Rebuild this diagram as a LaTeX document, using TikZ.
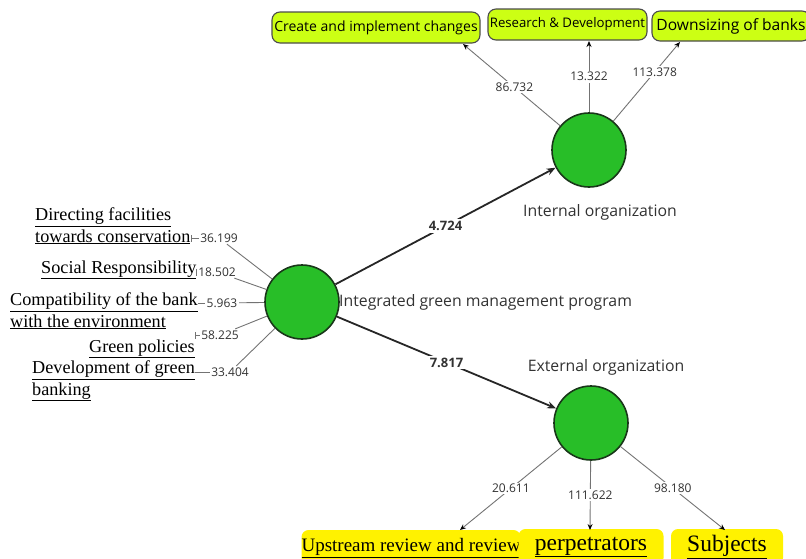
\documentclass[tikz,border=0pt]{standalone}
\usepackage{fontspec}
\setmainfont{Liberation Serif}
\newfontfamily\uifont{Open Sans}
\usetikzlibrary{arrows.meta,calc}
\newcommand\lineunder[1]{\underline{#1}}
\definecolor{lvgreen}{RGB}{40,190,40}
\definecolor{lvedge}{RGB}{25,55,25}
\definecolor{limefill}{RGB}{204,255,20}
\definecolor{hiyellow}{RGB}{255,242,0}
\definecolor{captext}{RGB}{50,50,50}
\begin{document}
\begin{tikzpicture}[x=1pt,y=-1pt,
  latent/.style={circle,draw=lvedge,line width=1.6pt,fill=lvgreen,minimum size=74pt,inner sep=0pt},
  limebox/.style={draw=black!70,line width=1.1pt,fill=limefill,rounded corners=8pt,inner sep=0pt,
    font=\uifont\fontsize{14}{16}\selectfont},
  hibox/.style={fill=hiyellow,rounded corners=7pt,inner sep=0pt,minimum height=36pt},
  lvname/.style={font=\uifont\fontsize{15.8}{18}\selectfont,text=captext,inner sep=0pt},
  coeff/.style={font=\uifont\bfseries\fontsize{13}{15}\selectfont,fill=white,inner sep=2pt,text=captext},
  loadlbl/.style={font=\uifont\fontsize{12}{14}\selectfont,fill=white,inner sep=1.5pt,text=captext},
  pathline/.style={line width=1.8pt,draw=black!85,-{Stealth[length=9pt,width=7pt]}},
  outarrow/.style={line width=0.9pt,draw=black!55,-{Stealth[length=6pt,width=5pt,color=black]}},
  indline/.style={line width=0.9pt,draw=black!55},
  indic/.style={font=\fontsize{18.2}{21.5}\selectfont,align=left,inner sep=0pt},
  bigind/.style={font=\fontsize{23.5}{26}\selectfont,inner sep=0pt},
]
\useasboundingbox (0,0) rectangle (806,558);

% latent variables
\node[latent] (cen) at (302,302) {};
\node[latent] (int) at (589,150) {};
\node[latent] (ext) at (591,423) {};

\node[lvname,anchor=west] (cenlbl) at (339,302) {Integrated green management program};
\node[lvname] (intlbl) at (600,212) {Internal organization};
\node[lvname] (extlbl) at (606,367) {External organization};

% structural paths
\draw[pathline] (cen) -- node[coeff]{4.724} (int);
\draw[pathline] (cen) -- node[coeff]{7.817} (ext);

% indicators of the internal organization
\node[limebox,minimum width=208pt,minimum height=31pt] (b1) at (376,27.5) {Create and implement changes};
\node[limebox,minimum width=159pt,minimum height=31pt,font=\uifont\fontsize{13.2}{15}\selectfont] (b2) at (567.5,24.5) {Research \& Development};
\node[limebox,minimum width=158pt,minimum height=30pt,font=\uifont\fontsize{15.6}{17}\selectfont] (b3) at (731,26) {Downsizing of banks};

\coordinate (t1) at (463,44);
\coordinate (t2) at (589,41);
\coordinate (t3) at (680,42);
\draw[outarrow] (int) -- node[loadlbl,pos=0.47]{86.732} (t1);
\draw[outarrow] (int) -- node[loadlbl,pos=0.5]{13.322} (t2);
\draw[outarrow] (int) -- node[loadlbl,pos=0.62]{113.378} (t3);

% indicators of the external organization
\node[hibox,minimum width=214pt,font=\fontsize{19}{21}\selectfont] (u1) at (411,548) {\lineunder{Upstream review and review}};
\node[hibox,minimum width=145pt,bigind] (u2) at (591,547) {\lineunder{perpetrators}};
\node[hibox,minimum width=112pt,bigind] (u3) at (727,547) {\lineunder{Subjects}};

\coordinate (s1) at (460,530);
\coordinate (s2) at (590,530);
\coordinate (s3) at (725,530);
\draw[outarrow] (ext) -- node[loadlbl,pos=0.5]{20.611} (s1);
\draw[outarrow] (ext) -- node[loadlbl,pos=0.5]{111.622} (s2);
\draw[outarrow] (ext) -- node[loadlbl,pos=0.5]{98.180} (s3);

% indicators of the integrated program (base anchor = last line)
\node[indic,anchor=base west] (x1) at (35,242) {\lineunder{Directing facilities}\\\lineunder{towards conservation}};
\node[indic,anchor=base west] (x2) at (41,273) {\lineunder{Social Responsibility}};
\node[indic,anchor=base west] (x3) at (10,327) {\lineunder{Compatibility of the bank}\\\lineunder{with the environment}};
\node[indic,anchor=base east] (x4) at (195,352) {\lineunder{Green policies}};
\node[indic,anchor=base west] (x5) at (32,395) {\lineunder{Development of green}\\\lineunder{banking}};

\node[loadlbl] (n1) at (219,238) {36.199};
\node[loadlbl] (n2) at (217,272) {18.502};
\node[loadlbl] (n3) at (222,303) {5.963};
\node[loadlbl] (n4) at (220,335) {58.225};
\node[loadlbl] (n5) at (230,372) {33.404};

\draw[indline] (cen) -- (n1);
\draw[indline] (cen) -- (n2);
\draw[indline] (cen) -- (n3);
\draw[indline] (cen) -- (n4);
\draw[indline] (cen) -- (n5);

\draw[indline,{Bar[width=7pt]}-] (x1.east |- n1.west) -- (n1.west);
\draw[indline,{Bar[width=7pt]}-] (x2.east |- n2.west) -- (n2.west);
\draw[indline] (x3.east |- n3.west) -- (n3.west);
\draw[indline,{Bar[width=7pt]}-] (x4.east |- n4.west) -- (n4.west);
\draw[indline] (x5.east |- n5.west) -- (n5.west);
\end{tikzpicture}
\end{document}
